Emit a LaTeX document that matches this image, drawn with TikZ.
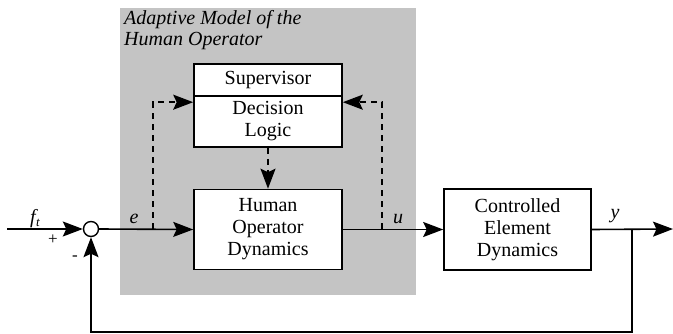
\documentclass[tikz,border=0pt]{standalone}
\usepackage{fontspec}
\setmainfont{Liberation Serif}
\usetikzlibrary{arrows.meta,calc}
\definecolor{bggray}{RGB}{196,196,196}
\tikzset{
  blk/.style={draw=black,line width=1.6pt,fill=white,inner sep=0pt,align=center,
    font=\rmfamily\fontsize{20}{22}\selectfont},
  conn/.style={line width=1.6pt,-{Stealth[length=20pt,width=15pt,inset=3.5pt]}},
  dconn/.style={line width=1.6pt,dash pattern=on 6pt off 5pt,-{Stealth[length=20pt,width=15pt,inset=3.5pt]}},
  lbl/.style={font=\rmfamily\fontsize{20}{22}\selectfont\itshape,inner sep=0pt},
  sgn/.style={font=\rmfamily\fontsize{17}{20}\selectfont,inner sep=0pt}
}
\begin{document}
\begin{tikzpicture}[x=1pt,y=-1pt]
\useasboundingbox (0,0) rectangle (673,334);
\fill[bggray] (120,8) rectangle (416,295);
\node[lbl,anchor=north west,align=left,font=\rmfamily\fontsize{20}{21.5}\selectfont\itshape] (title) at (124,10) {Adaptive Model of the\\Human Operator};
% blocks
\node[blk,minimum width=148pt,minimum height=32pt] (sup) at (268,80) {Supervisor};
\node[blk,minimum width=148pt,minimum height=51pt] (dec) at (268,121.5) {Decision\\Logic};
\node[blk,minimum width=148pt,minimum height=80pt] (hum) at (268,229.5) {Human\\Operator\\Dynamics};
\node[blk,minimum width=147pt,minimum height=81pt] (ctl) at (517.5,229.5) {Controlled\\Element\\Dynamics};
\node[draw,line width=1.4pt,fill=white,circle,minimum size=15pt,inner sep=0pt] (sum) at (91,229) {};
% coordinates
\coordinate (in) at (7,229);
\coordinate (out) at (673,229);
\coordinate (eb) at (153,229);
\coordinate (ub) at (382,229);
\coordinate (br) at (632,229);
\coordinate (fb) at (632,332);
\coordinate (decL) at ([yshift=-7pt]dec.north west);
\coordinate (decR) at ([yshift=-7pt]dec.north east);
% signal flow
\draw[conn] (in) -- (sum.west);
\draw[conn] (sum.east) -- (hum.west);
\draw[conn] (hum.east) -- (ctl.west);
\draw[conn] (ctl.east) -- (out);
\draw[conn] (br) -- (fb) -| (sum.south);
% dashed supervision
\draw[dconn] (eb) |- (decL);
\draw[dconn] (ub) |- (decR);
\draw[dconn] (dec.south) -- (hum.north);
% labels
\node[lbl,anchor=base] (ft) at (35,224) {f\kern0.5pt\raisebox{-3pt}{\fontsize{13}{14}\selectfont t}};
\node[sgn] (plus) at (53,240) {+};
\node[sgn] (minus) at (75,258) {-};
\node[lbl,anchor=base] (elbl) at (134,224) {e};
\node[lbl,anchor=base] (ulbl) at (398,224) {u};
\node[lbl,anchor=base] (ylbl) at (615,219) {y};
\end{tikzpicture}
\end{document}
